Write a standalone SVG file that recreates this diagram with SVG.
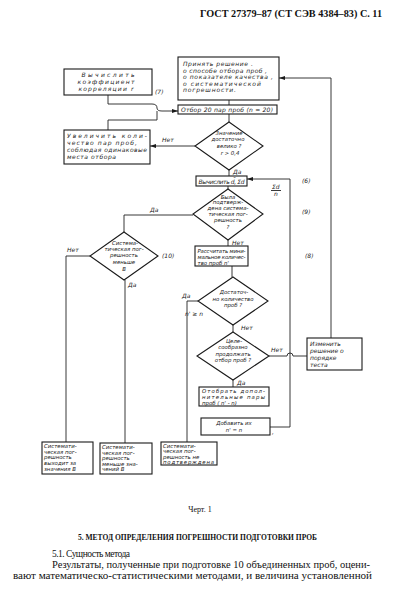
<svg xmlns="http://www.w3.org/2000/svg" width="401" height="600" viewBox="0 0 401 600">
<style>
.bx{fill:none;stroke:#1a1a1a;stroke-width:1.1}
.ln{fill:none;stroke:#222;stroke-width:0.9}
.t{font-family:"DejaVu Sans",sans-serif;font-style:italic;font-size:6px;fill:#1a1a1a}
.s{font-size:5.4px}
.m{text-anchor:middle}
.h{font-family:"Liberation Serif",serif;fill:#111}
</style>
<defs>
<marker id="arr" markerWidth="6" markerHeight="4" refX="6" refY="2" orient="auto" markerUnits="userSpaceOnUse">
<path d="M0,0 L6,2 L0,4 z" fill="#1a1a1a"/>
</marker>
</defs>
<rect width="401" height="600" fill="#fff"/>
<text class="h" x="200" y="17" font-size="9.5" font-weight="bold" textLength="182" lengthAdjust="spacingAndGlyphs">ГОСТ 27379–87 (СТ СЭВ 4384–83) С. 11</text>

<g id="connectors">
<path class="ln" d="M229,100 V105"/>
<path class="ln" d="M108,95 V104 H152 Q157,104 157,108 Q157,111 162,111 H178" marker-end="url(#arr)"/>
<path class="ln" d="M108,130 V120 H157 V111"/>
<path class="ln" d="M229,114 V122"/>
<path class="ln" d="M195,146 H150" marker-end="url(#arr)"/>
<path class="ln" d="M229,170 V176"/>
<path class="ln" d="M228,186 V189"/>
<path class="ln" d="M270,427 H290 V179 H247" marker-end="url(#arr)"/>
<path class="ln" d="M228,240 V246"/>
<path class="ln" d="M232,266 V277"/>
<path class="ln" d="M198,301 H187 V442"/>
<path class="ln" d="M233,325 V332"/>
<path class="ln" d="M269,356 H287 A3,3 0 0 1 293,356 H307"/>
<path class="ln" d="M233,380 V387"/>
<path class="ln" d="M331,338 V78 H279" marker-end="url(#arr)"/>
<path class="ln" d="M193,215 H124 V232"/>
<path class="ln" d="M90,256 H66 V442"/>
<path class="ln" d="M125,280 V443"/>
<path class="ln" d="M271,190.5 H281"/>
</g>

<g id="labels" class="t">
<text x="155" y="94">(7)</text>
<text x="162" y="142">Нет</text>
<text x="233" y="174">Да</text>
<text x="272" y="188.5">Σd</text>
<text x="274" y="196">n</text>
<text x="302" y="183">(6)</text>
<text x="302" y="214">(9)</text>
<text x="305" y="258">(8)</text>
<text x="232" y="244.5">Нет</text>
<text x="150" y="212">Да</text>
<text x="162" y="258">(10)</text>
<text x="67" y="252">Нет</text>
<text x="128" y="287">Да</text>
<text x="182" y="298">Да</text>
<text x="185" y="316">n' ≥ n</text>
<text x="241" y="329.5">Нет</text>
<text x="271" y="352">Нет</text>
<text x="237" y="385">Да</text>
<text x="272" y="434">,</text>
</g>

<g id="n_prinyat">
<rect class="bx" x="178" y="57" width="101" height="43"/>
<text class="t" x="183" y="66" textLength="70">Принять решение .</text>
<text class="t" x="183" y="72.5" textLength="84">о способе отбора проб ,</text>
<text class="t" x="183" y="79" textLength="90">о показателе качества ,</text>
<text class="t" x="183" y="85.5" textLength="78">о систематической</text>
<text class="t" x="183" y="92" textLength="53">погрешности.</text>
</g>

<g id="n_otbor">
<rect class="bx" x="178" y="105" width="99" height="9"/>
<text class="t" x="181" y="112.3" textLength="92">Отбор 20 пар проб (n = 20)</text>
</g>

<g id="n_vych_r">
<rect class="bx" x="64" y="69" width="88" height="26"/>
<text class="t m" x="108" y="76.5" textLength="53">Вычислить</text>
<text class="t m" x="106" y="83.5" textLength="57">коэффициент</text>
<text class="t m" x="106" y="90.5" textLength="55">корреляции r</text>
</g>

<g id="n_uvel">
<rect class="bx" x="64" y="130" width="86" height="34"/>
<text class="t" x="67" y="137.5" textLength="80">Увеличить коли-</text>
<text class="t" x="67" y="144.5" textLength="70">чество пар проб,</text>
<text class="t" x="67" y="151.5" textLength="80">соблюдая одинаковые</text>
<text class="t" x="67" y="158.5" textLength="49">места отбора</text>
</g>

<g id="n_d1">
<polygon class="bx" points="229,122 263,146 229,170 195,146"/>
<text class="t s m" x="229" y="135">Значение</text>
<text class="t s m" x="228" y="141">достаточно</text>
<text class="t s m" x="229" y="147.5">велико ?</text>
<text class="t s m" x="230" y="154.5">r &gt; 0,4</text>
</g>

<g id="n_vych_d">
<rect class="bx" x="196" y="176" width="51" height="10"/>
<text class="t" x="198.5" y="183.5" textLength="46">Вычислить d̄, Σd</text>
</g>

<g id="n_d2">
<polygon class="bx" points="228,189 263,214 228,240 193,214"/>
<text class="t s m" x="228" y="198.5">Была</text>
<text class="t s m" x="228" y="204">подтверж-</text>
<text class="t s m" x="228" y="210">дена система-</text>
<text class="t s m" x="228" y="216">тическая пог-</text>
<text class="t s m" x="228" y="222">решность</text>
<text class="t s m" x="228" y="229">?</text>
</g>

<g id="n_rassch">
<rect class="bx" x="195" y="246" width="53" height="20"/>
<text class="t s" x="197.5" y="252.5" textLength="48">Рассчитать мини-</text>
<text class="t s" x="197.5" y="258.5" textLength="48">мальное количес-</text>
<text class="t s" x="197.5" y="264.5">тво проб  n'</text>
</g>

<g id="n_d4">
<polygon class="bx" points="233,277 268,301 233,325 198,301"/>
<text class="t s m" x="234" y="294">Достаточ-</text>
<text class="t s m" x="233" y="300.5">но количество</text>
<text class="t s m" x="233" y="307">проб ?</text>
</g>

<g id="n_d5">
<polygon class="bx" points="233,332 269,356 233,380 197,356"/>
<text class="t s m" x="234" y="343">Целе-</text>
<text class="t s m" x="233" y="349">сообразно</text>
<text class="t s m" x="233" y="355.5">продолжать</text>
<text class="t s m" x="233" y="362">отбор проб ?</text>
</g>

<g id="n_otobrat">
<rect class="bx" x="199" y="387" width="70" height="19"/>
<text class="t s" x="202" y="393" textLength="63">Отобрать допол-</text>
<text class="t s" x="202" y="399" textLength="63">нительные пары</text>
<text class="t s" x="202" y="405">проб ( n' - n)</text>
</g>

<g id="n_dobavit">
<rect class="bx" x="201" y="418" width="69" height="17"/>
<text class="t s m" x="234" y="425">Добавить  их</text>
<text class="t s m" x="234" y="432">n' = n</text>
</g>

<g id="n_izmenit">
<rect class="bx" x="307" y="338" width="55" height="32"/>
<text class="t" x="310" y="345.5">Изменить</text>
<text class="t" x="310" y="352.5">решение о</text>
<text class="t" x="310" y="359.5">порядке</text>
<text class="t" x="310" y="366.5">теста</text>
</g>

<g id="n_d3">
<polygon class="bx" points="124,232 158,256 124,280 90,256"/>
<text class="t s m" x="125" y="245">Система-</text>
<text class="t s m" x="124" y="251">тическая пог-</text>
<text class="t s m" x="124" y="257">решность</text>
<text class="t s m" x="124" y="263.5">меньше</text>
<text class="t s m" x="124" y="270.5">B</text>
</g>

<g id="n_a">
<rect class="bx" x="42" y="442" width="51" height="32"/>
<text class="t s" x="44" y="448">Системати-</text>
<text class="t s" x="44" y="453.5">ческая пог-</text>
<text class="t s" x="44" y="459">решность</text>
<text class="t s" x="44" y="464.5">выходит за</text>
<text class="t s" x="44" y="470.5">значения B</text>
</g>

<g id="n_b">
<rect class="bx" x="100" y="443" width="52" height="31"/>
<text class="t s" x="102" y="449">Системати-</text>
<text class="t s" x="102" y="454.5">ческая пог-</text>
<text class="t s" x="102" y="460">решность</text>
<text class="t s" x="102" y="465.5">меньше зна-</text>
<text class="t s" x="102" y="471">чений B</text>
</g>

<g id="n_c">
<rect class="bx" x="161" y="442" width="56" height="23"/>
<text class="t s" x="163" y="448">Системати-</text>
<text class="t s" x="163" y="453.3">ческая пог-</text>
<text class="t s" x="163" y="458.6">решность не</text>
<text class="t s" x="163" y="463.8" textLength="51">подтверждена</text>
</g>

<text class="h" x="200" y="512" font-size="8" text-anchor="middle">Черт. 1</text>
<text class="h" x="78" y="539.5" font-size="8.5" font-weight="bold" textLength="239" lengthAdjust="spacingAndGlyphs">5. МЕТОД ОПРЕДЕЛЕНИЯ ПОГРЕШНОСТИ ПОДГОТОВКИ ПРОБ</text>
<text class="h" x="52" y="556.5" font-size="9.5" textLength="78">5.1. Сущность  метода</text>
<text class="h" x="52" y="568" font-size="9.5" textLength="318" lengthAdjust="spacingAndGlyphs">Результаты, полученные при подготовке 10 объединенных проб, оцени-</text>
<text class="h" x="13" y="579" font-size="9.5" textLength="359" lengthAdjust="spacingAndGlyphs">вают математическо-статистическими методами, и величина установленной</text>
</svg>
